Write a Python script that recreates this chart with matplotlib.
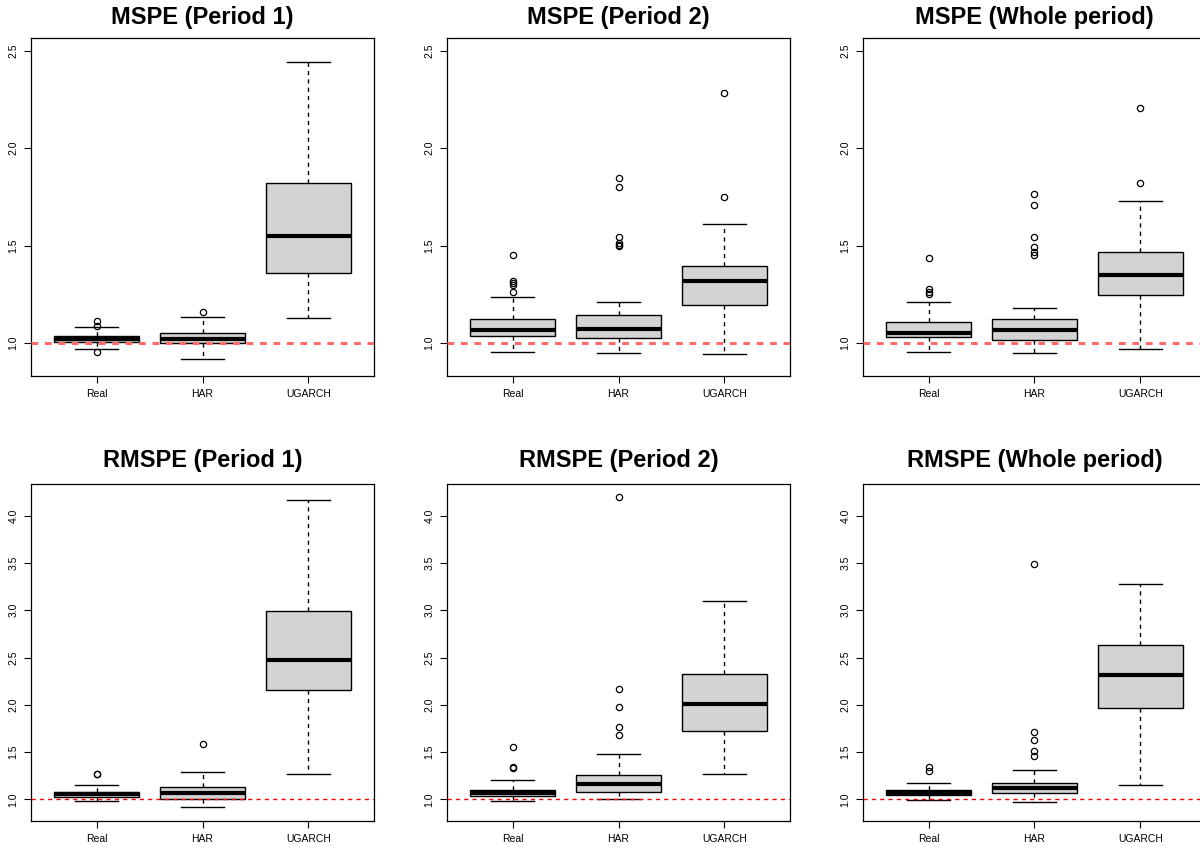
import matplotlib.pyplot as plt

plt.rcParams['font.family'] = ['Liberation Sans', 'DejaVu Sans']

# Models on the x axis
models = ['Real', 'HAR', 'UGARCH']

# Box statistics: (whislo, q1, med, q3, whishi, fliers)
mspe_p1 = [
    (0.969, 1.005, 1.021, 1.038, 1.082, [1.114, 1.090, 0.957]),
    (0.918, 1.000, 1.021, 1.055, 1.137, [1.161]),
    (1.128, 1.361, 1.552, 1.824, 2.440, []),
]
mspe_p2 = [
    (0.956, 1.038, 1.070, 1.123, 1.236, [1.453, 1.320, 1.308, 1.297, 1.262]),
    (0.950, 1.029, 1.074, 1.147, 1.209, [1.849, 1.803, 1.547, 1.513, 1.505, 1.499]),
    (0.945, 1.198, 1.320, 1.398, 1.613, [2.285, 1.752]),
]
mspe_all = [
    (0.957, 1.032, 1.055, 1.111, 1.212, [1.436, 1.280, 1.261, 1.253]),
    (0.949, 1.015, 1.067, 1.123, 1.179, [1.764, 1.709, 1.545, 1.492, 1.466, 1.454]),
    (0.968, 1.248, 1.350, 1.466, 1.730, [2.208, 1.824]),
]
rmspe_p1 = [
    (0.979, 1.021, 1.056, 1.081, 1.155, [1.265, 1.270]),
    (0.922, 1.004, 1.071, 1.127, 1.293, [1.585]),
    (1.268, 2.156, 2.474, 2.995, 4.166, []),
]
rmspe_p2 = [
    (0.979, 1.035, 1.071, 1.102, 1.201, [1.557, 1.342, 1.328]),
    (1.004, 1.074, 1.166, 1.257, 1.483, [4.201, 2.167, 1.980, 1.761, 1.684]),
    (1.264, 1.719, 2.008, 2.329, 3.094, []),
]
rmspe_all = [
    (0.997, 1.042, 1.063, 1.102, 1.173, [1.345, 1.303]),
    (0.968, 1.063, 1.120, 1.173, 1.314, [3.492, 1.712, 1.627, 1.515, 1.458]),
    (1.155, 1.969, 2.311, 2.632, 3.277, []),
]

titles = ['MSPE (Period 1)', 'MSPE (Period 2)', 'MSPE (Whole period)',
          'RMSPE (Period 1)', 'RMSPE (Period 2)', 'RMSPE (Whole period)']
panels = [mspe_p1, mspe_p2, mspe_all, rmspe_p1, rmspe_p2, rmspe_all]

top_yticks = [1.0, 1.5, 2.0, 2.5]
bottom_yticks = [1.0, 1.5, 2.0, 2.5, 3.0, 3.5, 4.0]

fig = plt.figure(figsize=(12, 8.52), dpi=100)

lefts = [31 / 1200, 447 / 1200, 863 / 1200]
w = 343 / 1200

for i, (title, data) in enumerate(zip(titles, panels)):
    row, col = divmod(i, 3)
    if row == 0:
        ax = fig.add_axes([lefts[col], (852 - 376) / 852, w, 338 / 852])
        ylim, yticks = (0.832, 2.565), top_yticks
        ref_kw = dict(color='#FF6B6B', lw=2.2, dashes=(2.2, 2.2))
        pad = 10
    else:
        ax = fig.add_axes([lefts[col], (852 - 821) / 852, w, 337 / 852])
        ylim, yticks = (0.771, 4.335), bottom_yticks
        ref_kw = dict(color='#FF0000', lw=1.0, dashes=(3, 3))
        pad = 12

    stats = []
    for name, (lo, q1, med, q3, hi, fl) in zip(models, data):
        stats.append(dict(label=name, whislo=lo, q1=q1, med=med, q3=q3,
                          whishi=hi, fliers=fl))

    ax.bxp(stats, positions=[1, 2, 3], widths=0.8, patch_artist=True,
           showfliers=True,
           boxprops=dict(facecolor='#D3D3D3', edgecolor='black', lw=1.0),
           medianprops=dict(color='black', lw=3.0),
           whiskerprops=dict(color='black', lw=1.0, linestyle=(0, (3, 3))),
           capprops=dict(color='black', lw=1.0),
           capwidths=0.4,
           flierprops=dict(marker='o', markerfacecolor='none',
                           markeredgecolor='black', markersize=4.5,
                           markeredgewidth=0.9))

    ax.axhline(1.0, zorder=5, **ref_kw)

    ax.set_xlim(0.38, 3.62)
    ax.set_ylim(*ylim)
    ax.set_yticks(yticks)
    ax.set_yticklabels([f'{t:.1f}' for t in yticks], rotation=90,
                       va='center', fontsize=7.5)
    ax.set_xticks([1, 2, 3])
    ax.set_xticklabels(models, fontsize=7.5)
    ax.tick_params(length=5, width=0.8, pad=4)
    for s in ax.spines.values():
        s.set_linewidth(0.9)
    ax.set_title(title, fontsize=17, fontweight='bold', pad=pad)

fig.savefig('out.png', dpi=100)
